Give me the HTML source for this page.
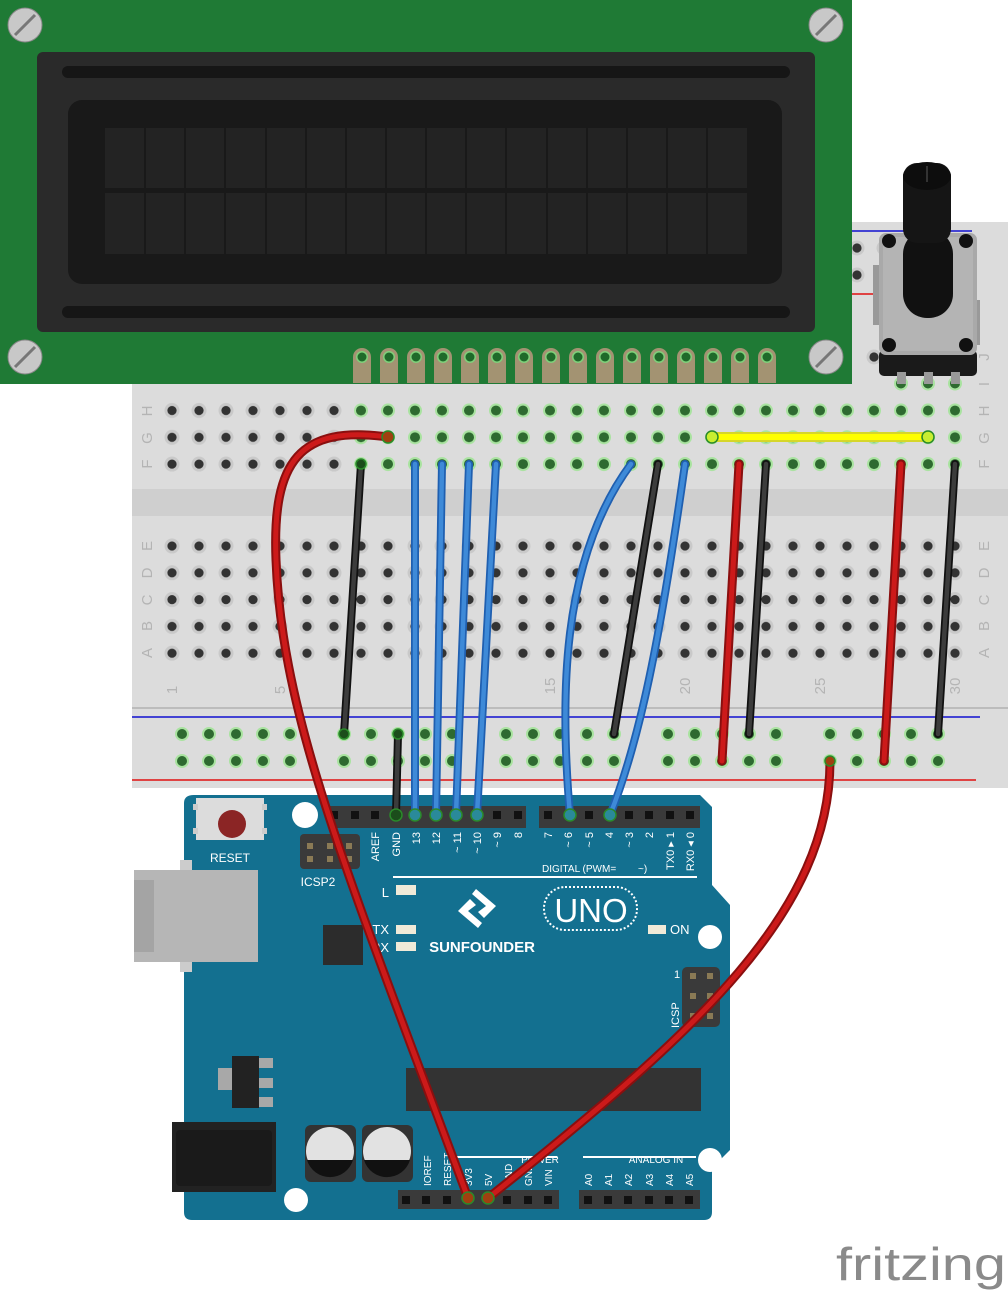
<!DOCTYPE html>
<html><head><meta charset="utf-8"><style>
html,body{margin:0;padding:0;background:#fff}
svg{display:block}
text{font-family:"Liberation Sans",sans-serif}
</style></head><body>
<svg width="1008" height="1290" viewBox="0 0 1008 1290" xmlns="http://www.w3.org/2000/svg">
<defs>
<pattern id="hg" patternUnits="userSpaceOnUse" x="158.5" y="397" width="27" height="26.8">
<circle cx="13.5" cy="13.5" r="7.5" fill="#c9c9c9"/><circle cx="13.5" cy="13.5" r="4.6" fill="#333"/></pattern>
<pattern id="hgn" patternUnits="userSpaceOnUse" x="158.5" y="397" width="27" height="26.8">
<circle cx="13.5" cy="13.5" r="7" fill="#a9e3a0"/><circle cx="13.5" cy="13.5" r="5" fill="#2e6a30"/></pattern>
<pattern id="hb" patternUnits="userSpaceOnUse" x="158.5" y="532.5" width="27" height="26.8">
<circle cx="13.5" cy="13.5" r="7.5" fill="#c9c9c9"/><circle cx="13.5" cy="13.5" r="4.6" fill="#333"/></pattern>
<pattern id="hr" patternUnits="userSpaceOnUse" x="168.5" y="720.5" width="27" height="27">
<circle cx="13.5" cy="13.5" r="7" fill="#a9e3a0"/><circle cx="13.5" cy="13.5" r="5" fill="#2e6a30"/></pattern>
<pattern id="ht" patternUnits="userSpaceOnUse" x="843.5" y="234.5" width="27" height="27">
<circle cx="13.5" cy="13.5" r="7.5" fill="#c9c9c9"/><circle cx="13.5" cy="13.5" r="4.6" fill="#333"/></pattern>
<pattern id="hj" patternUnits="userSpaceOnUse" x="860.5" y="343.5" width="27" height="27">
<circle cx="13.5" cy="13.5" r="7.5" fill="#c9c9c9"/><circle cx="13.5" cy="13.5" r="4.6" fill="#333"/></pattern>
<pattern id="hi" patternUnits="userSpaceOnUse" x="887.5" y="370" width="27" height="27">
<circle cx="13.5" cy="13.5" r="7" fill="#a9e3a0"/><circle cx="13.5" cy="13.5" r="5" fill="#2e6a30"/></pattern>
<pattern id="pin" patternUnits="userSpaceOnUse" x="352" y="340" width="27" height="50">
<path d="M1 17 A9 9 0 0 1 19 17 V43 H1 Z" fill="#a39372"/>
<circle cx="10" cy="17" r="6" fill="#7fd07a"/><circle cx="10" cy="17" r="4.5" fill="#1f6a2a"/></pattern>
</defs>

<!-- breadboard -->
<rect x="132" y="380" width="876" height="408" fill="#dcdcdc"/>
<rect x="852" y="222" width="156" height="170" fill="#dcdcdc"/>
<rect x="132" y="489" width="876" height="27" fill="#cfcfcf"/>
<line x1="132" y1="708" x2="1008" y2="708" stroke="#bcbcbc" stroke-width="2"/>
<line x1="132" y1="717" x2="980" y2="717" stroke="#1010d0" stroke-width="1.5"/>
<line x1="132" y1="780" x2="976" y2="780" stroke="#e01010" stroke-width="1.5"/>
<line x1="852" y1="231" x2="972" y2="231" stroke="#1010d0" stroke-width="1.5"/>
<line x1="852" y1="294" x2="972" y2="294" stroke="#e01010" stroke-width="1.5"/>
<rect x="843.5" y="234.5" width="135" height="54" fill="url(#ht)"/>
<rect x="860.5" y="343.5" width="108" height="27" fill="url(#hj)"/>
<rect x="887.5" y="370" width="81" height="27" fill="url(#hi)"/>
<rect x="158.5" y="397" width="189" height="80.4" fill="url(#hg)"/>
<rect x="347.5" y="397" width="621" height="80.4" fill="url(#hgn)"/>
<rect x="158.5" y="532.5" width="810" height="134" fill="url(#hb)"/>
<rect x="168.5" y="720.5" width="135" height="54" fill="url(#hr)"/>
<rect x="330.5" y="720.5" width="135" height="54" fill="url(#hr)"/>
<rect x="492.5" y="720.5" width="135" height="54" fill="url(#hr)"/>
<rect x="654.5" y="720.5" width="135" height="54" fill="url(#hr)"/>
<rect x="816.5" y="720.5" width="135" height="54" fill="url(#hr)"/>
<g fill="#b4b4b4" font-size="15">
<text transform="translate(152,411) rotate(-90)" text-anchor="middle">H</text>
<text transform="translate(152,438) rotate(-90)" text-anchor="middle">G</text>
<text transform="translate(152,464) rotate(-90)" text-anchor="middle">F</text>
<text transform="translate(152,546) rotate(-90)" text-anchor="middle">E</text>
<text transform="translate(152,573) rotate(-90)" text-anchor="middle">D</text>
<text transform="translate(152,600) rotate(-90)" text-anchor="middle">C</text>
<text transform="translate(152,626) rotate(-90)" text-anchor="middle">B</text>
<text transform="translate(152,653) rotate(-90)" text-anchor="middle">A</text>
<text transform="translate(989,357) rotate(-90)" text-anchor="middle">J</text>
<text transform="translate(989,384) rotate(-90)" text-anchor="middle">I</text>
<text transform="translate(989,411) rotate(-90)" text-anchor="middle">H</text>
<text transform="translate(989,438) rotate(-90)" text-anchor="middle">G</text>
<text transform="translate(989,464) rotate(-90)" text-anchor="middle">F</text>
<text transform="translate(989,546) rotate(-90)" text-anchor="middle">E</text>
<text transform="translate(989,573) rotate(-90)" text-anchor="middle">D</text>
<text transform="translate(989,600) rotate(-90)" text-anchor="middle">C</text>
<text transform="translate(989,626) rotate(-90)" text-anchor="middle">B</text>
<text transform="translate(989,653) rotate(-90)" text-anchor="middle">A</text>
<text transform="translate(177,690) rotate(-90)" text-anchor="middle">1</text>
<text transform="translate(285,690) rotate(-90)" text-anchor="middle">5</text>
<text transform="translate(555,686) rotate(-90)" text-anchor="middle">15</text>
<text transform="translate(690,686) rotate(-90)" text-anchor="middle">20</text>
<text transform="translate(825,686) rotate(-90)" text-anchor="middle">25</text>
<text transform="translate(960,686) rotate(-90)" text-anchor="middle">30</text>
</g>

<!-- LCD -->
<rect x="0" y="0" width="852" height="384" fill="#1f7a35"/>
<rect x="37" y="52" width="778" height="280" rx="6" fill="#2a2a2a"/>
<rect x="62" y="66" width="728" height="12" rx="6" fill="#161616"/>
<rect x="62" y="306" width="728" height="12" rx="6" fill="#161616"/>
<rect x="68" y="100" width="714" height="184" rx="14" fill="#191919"/>
<g fill="#232323">
<rect x="105" y="128" width="642" height="60"/><rect x="105" y="193" width="642" height="61"/>
</g>
<g stroke="#191919" stroke-width="2">
<path d="M145 128V254M185 128V254M225 128V254M266 128V254M306 128V254M346 128V254M386 128V254M426 128V254M466 128V254M506 128V254M547 128V254M587 128V254M627 128V254M667 128V254M707 128V254"/>
</g>
<g fill="#c8c8c8" stroke="#888" stroke-width="1">
<circle cx="25" cy="25" r="17"/><circle cx="826" cy="25" r="17"/><circle cx="25" cy="357" r="17"/><circle cx="826" cy="357" r="17"/>
</g>
<g stroke="#777" stroke-width="3"><path d="M15 35L35 15M816 35L836 15M15 367L35 347M816 367L836 347"/></g>
<rect x="352" y="340" width="432" height="44" fill="url(#pin)"/>

<!-- potentiometer -->
<rect x="873" y="265" width="6" height="60" fill="#999"/>
<rect x="974" y="300" width="6" height="45" fill="#999"/>
<rect x="879" y="350" width="98" height="26" rx="5" fill="#1a1a1a"/>
<rect x="897" y="372" width="9" height="12" fill="#999"/><rect x="924" y="372" width="9" height="12" fill="#999"/><rect x="951" y="372" width="9" height="12" fill="#999"/>
<rect x="879" y="233" width="98" height="122" rx="7" fill="#a9a9a9"/>
<rect x="883" y="237" width="90" height="114" rx="5" fill="#b4b4b4"/>
<circle cx="889" cy="241" r="7" fill="#111"/><circle cx="966" cy="241" r="7" fill="#111"/><circle cx="889" cy="345" r="7" fill="#111"/><circle cx="966" cy="345" r="7" fill="#111"/>
<rect x="903" y="230" width="50" height="88" rx="24" fill="#111"/>
<rect x="903" y="163" width="48" height="80" rx="14" fill="#151515"/>
<ellipse cx="927" cy="176" rx="24" ry="14" fill="#0d0d0d"/>
<line x1="927" y1="166" x2="927" y2="182" stroke="#333" stroke-width="2"/>

<!-- Arduino -->
<path d="M194 795 L700 795 L712 807 L712 885 L730 905 L730 1150 L712 1168 L712 1212 Q712 1220 704 1220 L192 1220 Q184 1220 184 1212 L184 803 Q184 795 194 795 Z" fill="#137090"/>
<circle cx="305" cy="815" r="13" fill="#fff"/><circle cx="710" cy="937" r="12" fill="#fff"/><circle cx="710" cy="1160" r="12" fill="#fff"/><circle cx="296" cy="1200" r="12" fill="#fff"/>
<rect x="196" y="798" width="68" height="42" fill="#dcdcdc"/>
<rect x="193" y="804" width="5" height="6" fill="#ccc"/><rect x="262" y="804" width="5" height="6" fill="#ccc"/><rect x="193" y="828" width="5" height="6" fill="#ccc"/><rect x="262" y="828" width="5" height="6" fill="#ccc"/>
<circle cx="232" cy="824" r="14" fill="#8b2525"/>
<text x="230" y="862" fill="#fff" font-size="12" text-anchor="middle">RESET</text>
<rect x="300" y="834" width="60" height="35" rx="4" fill="#3a3a3a"/>
<g fill="#8a7a55"><rect x="307" y="843" width="6" height="6"/><rect x="327" y="843" width="6" height="6"/><rect x="346" y="843" width="6" height="6"/><rect x="307" y="856" width="6" height="6"/><rect x="327" y="856" width="6" height="6"/><rect x="346" y="856" width="6" height="6"/></g>
<text x="318" y="886" fill="#fff" font-size="12" text-anchor="middle">ICSP2</text>
<rect x="134" y="870" width="124" height="92" fill="#b6b6b6"/>
<rect x="134" y="880" width="20" height="72" fill="#a4a4a4"/>
<rect x="180" y="860" width="12" height="10" fill="#ccc"/><rect x="180" y="962" width="12" height="10" fill="#ccc"/>
<rect x="323" y="925" width="40" height="40" fill="#2c2c2c"/>
<!-- headers -->
<rect x="329" y="806" width="197" height="22" fill="#3a3a3a"/>
<rect x="539" y="806" width="161" height="22" fill="#3a3a3a"/>
<g fill="#111">
<rect x="330" y="811" width="8" height="8"/><rect x="351" y="811" width="8" height="8"/><rect x="371" y="811" width="8" height="8"/><rect x="493" y="811" width="8" height="8"/><rect x="514" y="811" width="8" height="8"/>
<rect x="544" y="811" width="8" height="8"/><rect x="585" y="811" width="8" height="8"/><rect x="625" y="811" width="8" height="8"/><rect x="645" y="811" width="8" height="8"/><rect x="666" y="811" width="8" height="8"/><rect x="686" y="811" width="8" height="8"/>
</g>
<g fill="#fff" font-size="11">
<text transform="translate(379,832) rotate(-90)" text-anchor="end">AREF</text>
<text transform="translate(400,832) rotate(-90)" text-anchor="end">GND</text>
<text transform="translate(420,832) rotate(-90)" text-anchor="end">13</text>
<text transform="translate(440,832) rotate(-90)" text-anchor="end">12</text>
<text transform="translate(461,832) rotate(-90)" text-anchor="end">~ 11</text>
<text transform="translate(481,832) rotate(-90)" text-anchor="end">~ 10</text>
<text transform="translate(501,832) rotate(-90)" text-anchor="end">~ 9</text>
<text transform="translate(522,832) rotate(-90)" text-anchor="end">8</text>
<text transform="translate(552,832) rotate(-90)" text-anchor="end">7</text>
<text transform="translate(572,832) rotate(-90)" text-anchor="end">~ 6</text>
<text transform="translate(593,832) rotate(-90)" text-anchor="end">~ 5</text>
<text transform="translate(613,832) rotate(-90)" text-anchor="end">4</text>
<text transform="translate(633,832) rotate(-90)" text-anchor="end">~ 3</text>
<text transform="translate(653,832) rotate(-90)" text-anchor="end">2</text>
<text transform="translate(674,832) rotate(-90)" text-anchor="end">TX0 ▸ 1</text>
<text transform="translate(694,832) rotate(-90)" text-anchor="end">RX0 ◂ 0</text>
<text x="542" y="872" font-size="10">DIGITAL (PWM=</text>
<text x="638" y="872" font-size="10">~)</text>
<text x="389" y="897" font-size="13" text-anchor="end">L</text>
<text x="389" y="934" font-size="13" text-anchor="end">TX</text>
<text x="389" y="952" font-size="13" text-anchor="end">RX</text>
<text x="670" y="934" font-size="13">ON</text>
<text x="674" y="978" font-size="11">1</text>
<text transform="translate(679,1028) rotate(-90)" font-size="11">ICSP</text>
</g>
<rect x="393" y="876" width="304" height="2" fill="#fff"/>
<g fill="#f0ead8"><rect x="396" y="885" width="20" height="10"/><rect x="396" y="925" width="20" height="9"/><rect x="396" y="942" width="20" height="9"/><rect x="648" y="925" width="18" height="9"/></g>
<g fill="#fff">
<path d="M476 889 L496 906 L484 918 L478 912 L486 906 L472 894 Z"/>
<path d="M478 928 L458 911 L470 899 L476 905 L468 911 L482 923 Z"/>
</g>
<text x="482" y="952" fill="#fff" font-size="15" font-weight="bold" text-anchor="middle">SUNFOUNDER</text>
<rect x="544" y="887" width="93" height="43" rx="21" fill="none" stroke="#fff" stroke-width="2" stroke-dasharray="2 2"/>
<text x="591" y="922" fill="#fff" font-size="33" text-anchor="middle">UNO</text>
<rect x="682" y="967" width="38" height="60" rx="5" fill="#3a3a3a"/>
<g fill="#8a7a55"><rect x="690" y="973" width="6" height="6"/><rect x="707" y="973" width="6" height="6"/><rect x="690" y="993" width="6" height="6"/><rect x="707" y="993" width="6" height="6"/><rect x="690" y="1013" width="6" height="6"/><rect x="707" y="1013" width="6" height="6"/></g>
<!-- regulator -->
<rect x="218" y="1068" width="16" height="22" fill="#a8a8a8"/>
<rect x="256" y="1058" width="17" height="10" fill="#a8a8a8"/><rect x="256" y="1078" width="17" height="10" fill="#a8a8a8"/><rect x="256" y="1097" width="17" height="10" fill="#a8a8a8"/>
<rect x="232" y="1056" width="27" height="52" fill="#222"/>
<rect x="406" y="1068" width="295" height="43" fill="#333"/>
<!-- jack -->
<rect x="172" y="1122" width="104" height="70" fill="#222"/>
<rect x="176" y="1130" width="96" height="56" rx="4" fill="#1a1a1a"/>
<!-- caps -->
<rect x="305" y="1125" width="51" height="57" rx="6" fill="#333"/>
<rect x="362" y="1125" width="51" height="57" rx="6" fill="#333"/>
<circle cx="330" cy="1151" r="24" fill="#e2e2e2"/><circle cx="387" cy="1151" r="24" fill="#e2e2e2"/>
<path d="M307 1160 H353 A24 24 0 0 1 307 1160 Z" fill="#111"/>
<path d="M364 1160 H410 A24 24 0 0 1 364 1160 Z" fill="#111"/>
<rect x="457" y="1156" width="100" height="2" fill="#fff"/><rect x="583" y="1156" width="113" height="2" fill="#fff"/>
<g fill="#fff" font-size="10">
<text x="540" y="1163" text-anchor="middle">POWER</text>
<text x="656" y="1163" text-anchor="middle">ANALOG IN</text>
<text transform="translate(431,1186) rotate(-90)">IOREF</text>
<text transform="translate(451,1186) rotate(-90)">RESET</text>
<text transform="translate(472,1186) rotate(-90)">3V3</text>
<text transform="translate(492,1186) rotate(-90)">5V</text>
<text transform="translate(512,1186) rotate(-90)">GND</text>
<text transform="translate(532,1186) rotate(-90)">GND</text>
<text transform="translate(552,1186) rotate(-90)">VIN</text>
<text transform="translate(592,1186) rotate(-90)">A0</text>
<text transform="translate(612,1186) rotate(-90)">A1</text>
<text transform="translate(632,1186) rotate(-90)">A2</text>
<text transform="translate(653,1186) rotate(-90)">A3</text>
<text transform="translate(673,1186) rotate(-90)">A4</text>
<text transform="translate(693,1186) rotate(-90)">A5</text>
</g>
<rect x="398" y="1190" width="161" height="19" fill="#3a3a3a"/>
<rect x="579" y="1190" width="121" height="19" fill="#3a3a3a"/>
<g fill="#111">
<rect x="402" y="1196" width="8" height="8"/><rect x="422" y="1196" width="8" height="8"/><rect x="443" y="1196" width="8" height="8"/><rect x="503" y="1196" width="8" height="8"/><rect x="524" y="1196" width="8" height="8"/><rect x="544" y="1196" width="8" height="8"/>
<rect x="584" y="1196" width="8" height="8"/><rect x="604" y="1196" width="8" height="8"/><rect x="624" y="1196" width="8" height="8"/><rect x="645" y="1196" width="8" height="8"/><rect x="665" y="1196" width="8" height="8"/><rect x="685" y="1196" width="8" height="8"/>
</g>

<!-- wires -->
<g fill="none" stroke-linecap="round">
<g stroke="#111" stroke-width="8"><path d="M361 464 L344 734"/><path d="M398 734 L396 815"/><path d="M658 464 L614 734"/><path d="M766 464 L749 734"/><path d="M955 464 L938 734"/></g>
<g stroke="#3c3c3c" stroke-width="4.5"><path d="M361 464 L344 734"/><path d="M398 734 L396 815"/><path d="M658 464 L614 734"/><path d="M766 464 L749 734"/><path d="M955 464 L938 734"/></g>
<g stroke="#1f5fb0" stroke-width="8"><path d="M415 464 L415 815"/><path d="M442 464 L436 815"/><path d="M469 464 L456 815"/><path d="M496 464 L477 815"/><path d="M631 464 C560 560 560 700 570 815"/><path d="M685 464 C660 640 640 740 610 815"/></g>
<g stroke="#3e8ad8" stroke-width="4.5"><path d="M415 464 L415 815"/><path d="M442 464 L436 815"/><path d="M469 464 L456 815"/><path d="M496 464 L477 815"/><path d="M631 464 C560 560 560 700 570 815"/><path d="M685 464 C660 640 640 740 610 815"/></g>
<g stroke="#8a0f0f" stroke-width="9"><path d="M739 464 L722 761"/><path d="M901 464 L884 761"/><path d="M388 437 C300 425 272 460 276 560 C282 720 350 880 468 1198"/><path d="M830 761 C830 910 700 1030 488 1198"/></g>
<g stroke="#cc1a1a" stroke-width="5"><path d="M739 464 L722 761"/><path d="M901 464 L884 761"/><path d="M388 437 C300 425 272 460 276 560 C282 720 350 880 468 1198"/><path d="M830 761 C830 910 700 1030 488 1198"/></g>
<path d="M712 437 L928 437" stroke="#d6d62a" stroke-width="10"/>
<path d="M712 437 L928 437" stroke="#ffff00" stroke-width="6"/>
</g>
<g stroke="#2a8a2a" stroke-width="1.5">
<circle cx="361" cy="464" r="5" fill="#1b4d1b"/><circle cx="344" cy="734" r="5" fill="#1b4d1b"/><circle cx="398" cy="734" r="5" fill="#1b4d1b"/><circle cx="396" cy="815" r="6" fill="#1b4d1b"/>
<circle cx="415" cy="815" r="6" fill="#2a8a9a"/><circle cx="436" cy="815" r="6" fill="#2a8a9a"/><circle cx="456" cy="815" r="6" fill="#2a8a9a"/><circle cx="477" cy="815" r="6" fill="#2a8a9a"/><circle cx="570" cy="815" r="6" fill="#2a8a9a"/><circle cx="610" cy="815" r="6" fill="#2a8a9a"/>
<circle cx="388" cy="437" r="6" fill="#a04010"/><circle cx="468" cy="1198" r="6" fill="#a04010"/><circle cx="488" cy="1198" r="6" fill="#a04010"/><circle cx="830" cy="761" r="5" fill="#a04010"/>
<circle cx="712" cy="437" r="6" fill="#c8ee30"/><circle cx="928" cy="437" r="6" fill="#c8ee30"/>
</g>

<text x="836" y="1280" fill="#8a8a8a" font-size="46" textLength="170" lengthAdjust="spacingAndGlyphs">fritzing</text>
</svg>
</body></html>
